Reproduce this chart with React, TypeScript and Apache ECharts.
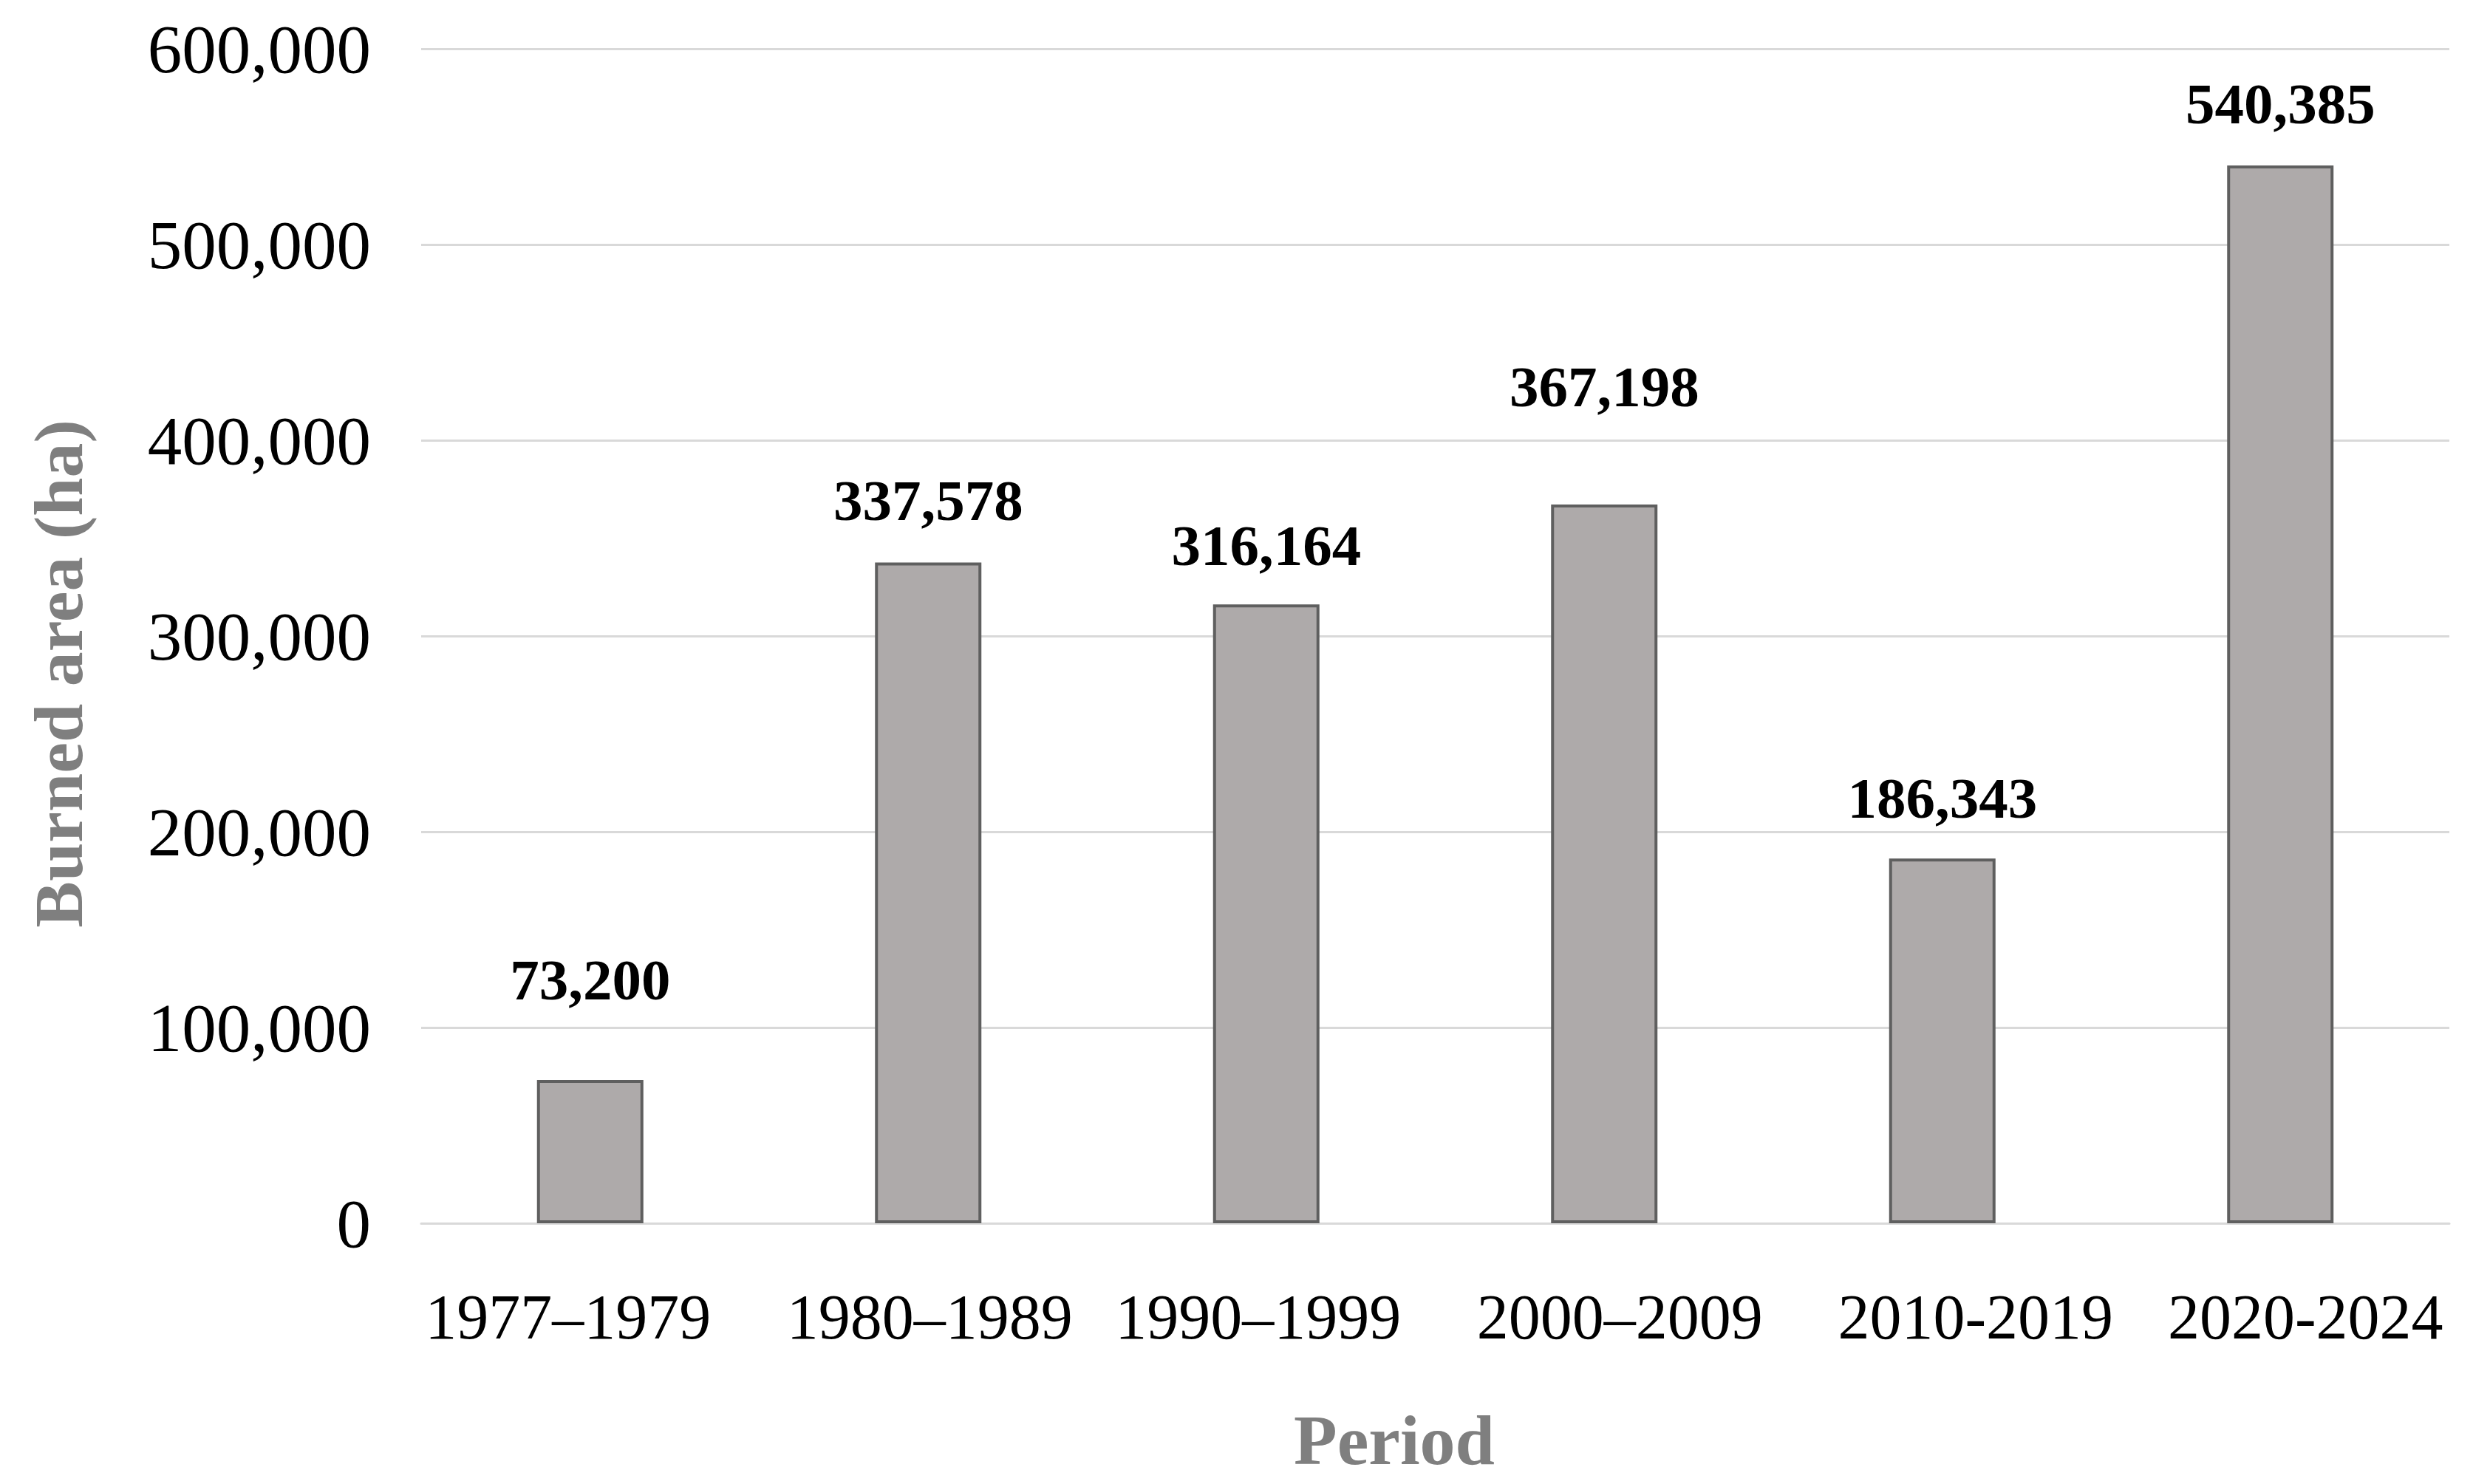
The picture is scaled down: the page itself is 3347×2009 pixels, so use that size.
import React, { useEffect, useRef } from "react";
import * as echarts from "echarts";

const categories = ["1977–1979", "1980–1989", "1990–1999", "2000–2009", "2010-2019", "2020-2024"];
const burnedArea = [73200, 337578, 316164, 367198, 186343, 540385];
const yTicks = { min: 0, max: 600000, interval: 100000 };
const yTitle = "Burned area (ha)";
const xTitle = "Period";

// style-only offsets
const labelDistance = [96, 44, 40, 120, 42, 44];
const xLabelShift = [-30, 2, -11, 21, 45, 34];

const FONT = "'Liberation Serif', 'Times New Roman', serif";
const fmt = (v: number) => v.toLocaleString("en-US");

export default function App() {
  const ref = useRef<HTMLDivElement>(null);
  useEffect(() => {
    if (!ref.current) return;
    const chart = echarts.init(ref.current, null, { renderer: "svg" });
    const rich: Record<string, any> = {};
    xLabelShift.forEach((s, i) => {
      rich["s" + i] = {
        fontFamily: FONT,
        fontSize: 86,
        color: "#000",
        padding: s < 0 ? [0, -2 * s, 0, 0] : [0, 0, 0, 2 * s],
      };
    });
    chart.setOption({
      animation: false,
      backgroundColor: "#ffffff",
      grid: { left: 570, right: 32, top: 66, bottom: 353, containLabel: false },
      xAxis: {
        type: "category",
        data: categories,
        axisLine: { show: true, lineStyle: { color: "#d9d9d9", width: 3 } },
        axisTick: { show: false },
        axisLabel: {
          interval: 0,
          color: "#000",
          fontFamily: FONT,
          fontSize: 86,
          margin: 84,
          formatter: (v: string, i: number) => `{s${i}|${v}}`,
          rich,
        },
      },
      yAxis: {
        type: "value",
        min: yTicks.min,
        max: yTicks.max,
        interval: yTicks.interval,
        axisLine: { show: false },
        axisTick: { show: false },
        splitLine: { lineStyle: { color: "#d9d9d9", width: 3 } },
        axisLabel: {
          color: "#000",
          fontFamily: FONT,
          fontSize: 93,
          margin: 68,
          formatter: (v: number) => fmt(v),
        },
      },
      series: [
        {
          type: "bar",
          data: burnedArea.map((v, i) => ({
            value: v,
            label: { distance: labelDistance[i] },
          })),
          barWidth: 144,
          itemStyle: { color: "#aeaaaa", borderColor: "#5f5f5f", borderWidth: 4 },
          label: {
            show: true,
            position: "top",
            color: "#000",
            fontFamily: FONT,
            fontWeight: "bold",
            fontSize: 79,
            formatter: (p: any) => fmt(p.value),
          },
        },
      ],
      graphic: [
        {
          type: "text",
          x: 79,
          y: 912,
          rotation: Math.PI / 2,
          style: {
            text: yTitle,
            fill: "#7f7f7f",
            font: `bold 94px ${FONT}`,
            textAlign: "center",
            textVerticalAlign: "middle",
          },
        },
        {
          type: "text",
          x: 1887,
          y: 1949,
          style: {
            text: xTitle,
            fill: "#7f7f7f",
            font: `bold 96px ${FONT}`,
            textAlign: "center",
            textVerticalAlign: "middle",
          },
        },
      ],
    });
    return () => chart.dispose();
  }, []);
  return (
    <div
      ref={ref}
      style={{ position: "fixed", left: 0, top: 0, width: 3347, height: 2009, background: "#fff" }}
    />
  );
}
